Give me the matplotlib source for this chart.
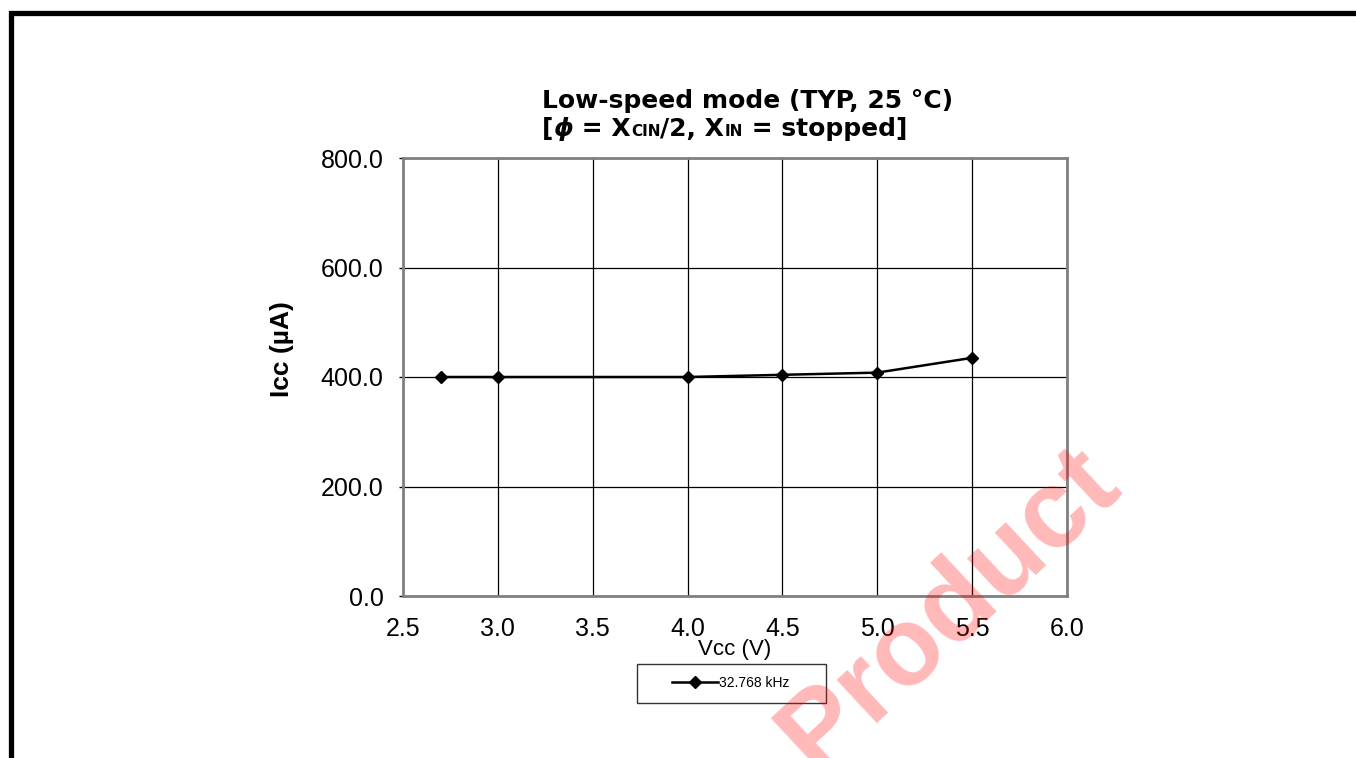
import matplotlib
matplotlib.use("Agg")
import matplotlib.pyplot as plt
from matplotlib.patches import Rectangle
from matplotlib.offsetbox import TextArea, HPacker, AnchoredOffsetbox

plt.rcParams['font.family'] = ['Liberation Sans', 'DejaVu Sans']

# datos
vcc = [2.7, 3.0, 4.0, 4.5, 5.0, 5.5]
icc = [400, 400, 400, 404, 408, 435]
serie = '32.768 kHz'
xticks = [2.5, 3.0, 3.5, 4.0, 4.5, 5.0, 5.5, 6.0]
yticks = [0, 200, 400, 600, 800]

fig = plt.figure(figsize=(13.56, 7.58), dpi=100)

# marco negro de la pagina
fig.patches.append(Rectangle((10.5 / 1356, -0.1), 1.2, 1.1 - 12.5 / 758,
                             transform=fig.transFigure, fill=False,
                             edgecolor='black', linewidth=3.8, zorder=0))

ax = fig.add_axes([403 / 1356, 1 - 596 / 758, 664 / 1356, 438 / 758])
ax.plot(vcc, icc, color='black', linewidth=1.8, marker='D', markersize=6.5,
        label=serie, zorder=3)

ax.set_xlim(2.5, 6.0)
ax.set_ylim(0, 800)
ax.set_xticks(xticks)
ax.set_yticks(yticks)
ax.set_xticklabels([f'{v:.1f}' for v in xticks])
ax.set_yticklabels([f'{v:.1f}' for v in yticks])
ax.tick_params(axis='both', labelsize=18, length=3, width=1, color='black')
ax.tick_params(axis='y', pad=11)
ax.tick_params(axis='x', length=0, pad=15)
ax.grid(True, color='black', linewidth=0.9)
for s in ax.spines.values():
    s.set_color('#808080')
    s.set_linewidth(2)

ax.set_xlabel('Vcc (V)', fontsize=16, labelpad=-1)
ax.set_ylabel('Icc (µA)', fontsize=19, fontweight='bold')
ax.yaxis.label.set_va('center')
ax.yaxis.set_label_coords(-0.182, 0.564)

# titulo en dos lineas (la segunda con subindices pequenos)
tfam = ['DejaVu Sans']
fig.text(542 / 1356, 1 - 101 / 758, 'Low-speed mode (TYP, 25 °C)', fontsize=18,
         fontweight='bold', ha='left', va='center', family=tfam)
big = dict(fontsize=18, fontweight='bold', color='black', family=tfam)
small = dict(fontsize=11, fontweight='bold', color='black', family=tfam)
partes = [TextArea('[', textprops=big),
          TextArea('ϕ', textprops=dict(big, style='italic')),
          TextArea(' = X', textprops=big),
          TextArea('CIN', textprops=small),
          TextArea('/2, X', textprops=big),
          TextArea('IN', textprops=small),
          TextArea(' = stopped]', textprops=big)]
fila = HPacker(children=partes, align='baseline', pad=0, sep=0)
caja = AnchoredOffsetbox(loc='center left', child=fila, frameon=False, pad=0,
                         bbox_to_anchor=(542 / 1356, 1 - 129 / 758),
                         bbox_transform=fig.transFigure, borderpad=0)
fig.add_artist(caja)

leg = ax.legend(loc='center', bbox_to_anchor=(731 / 1356, 1 - 683 / 758),
                bbox_transform=fig.transFigure, fontsize=10, frameon=True,
                fancybox=False, edgecolor='black', handlelength=3.3,
                borderpad=0.9, handletextpad=0.1, borderaxespad=0)
leg.get_frame().set_linewidth(1)
leg.get_frame().set_boxstyle('square', pad=0)
leg._legend_box.set_width(164)

# marca de agua
fig.text(1125 / 1356, 1 - 492 / 758, 'Discontinued  Product', fontsize=80,
         fontweight='bold', color='red', alpha=0.28, rotation=43,
         ha='right', va='baseline', rotation_mode='anchor', zorder=10)

fig.savefig('out.png', dpi=100, facecolor='white')
